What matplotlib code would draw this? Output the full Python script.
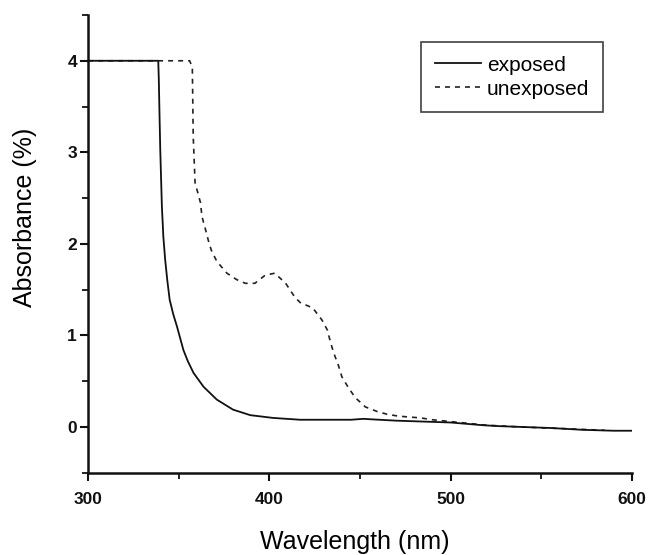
import matplotlib
matplotlib.use("Agg")
import matplotlib.pyplot as plt
from matplotlib.ticker import MultipleLocator

# values
wl_exposed = [300, 338.7, 339.0, 339.4, 339.8, 340.7, 341.5, 342.5, 343.7, 345,
              347, 349, 352.6, 355, 358.2, 363.7, 371, 380, 389.5, 402, 417,
              445, 452, 456, 470, 485, 500, 518, 527, 555, 573, 590, 600]
abs_exposed = [4.0, 4.0, 3.8, 3.4, 3.03, 2.41, 2.08, 1.83, 1.60, 1.39,
               1.23, 1.10, 0.84, 0.72, 0.59, 0.44, 0.30, 0.19, 0.13, 0.10, 0.08,
               0.08, 0.09, 0.085, 0.07, 0.06, 0.05, 0.02, 0.01, -0.01, -0.03,
               -0.04, -0.04]

wl_unexposed = [300, 356, 357.5, 358, 359, 362, 362.8, 364.6, 366.3, 368, 371,
                376.6, 382, 386.7, 392, 397.8, 403, 409, 414, 417, 424, 429,
                432, 433.7, 435.5, 438, 440, 443.6, 447.5, 453, 459.5, 465,
                471, 477, 483.5, 490, 500, 520, 540, 560, 585]
abs_unexposed = [4.0, 4.0, 3.93, 3.17, 2.67, 2.45, 2.3, 2.17, 2.04, 1.93, 1.81,
                 1.68, 1.61, 1.57, 1.57, 1.66, 1.68, 1.57, 1.42, 1.36, 1.30, 1.17,
                 1.06, 0.93, 0.81, 0.68, 0.55, 0.43, 0.32, 0.22, 0.17, 0.14,
                 0.12, 0.11, 0.10, 0.08, 0.06, 0.02, 0.0, -0.015, -0.035]

x_ticks = [300, 400, 500, 600]
y_ticks = [0, 1, 2, 3, 4]

fig = plt.figure(figsize=(6.48, 5.55), dpi=100)
ax = fig.add_axes([0.136, 0.148, 0.839, 0.825])

ax.plot(wl_unexposed, abs_unexposed, color="#222222", lw=1.2,
        linestyle=(0, (3, 3)), label="unexposed")
ax.plot(wl_exposed, abs_exposed, color="#111111", lw=1.3, label="exposed")

ax.set_xlim(300, 600)
ax.set_ylim(-0.5, 4.5)
ax.set_xticks(x_ticks)
ax.set_yticks(y_ticks)
ax.xaxis.set_minor_locator(MultipleLocator(50))
ax.yaxis.set_minor_locator(MultipleLocator(0.5))

for side in ["top", "right"]:
    ax.spines[side].set_visible(False)
for side in ["left", "bottom"]:
    ax.spines[side].set_linewidth(1.8)
    ax.spines[side].set_color("#111111")

ax.tick_params(which="major", direction="out", length=6, width=1.5,
               colors="#111111")
ax.tick_params(which="minor", direction="out", length=4, width=1.3,
               colors="#111111")
ax.tick_params(axis="x", which="major", pad=8)
ax.tick_params(axis="y", which="major", pad=2)
for lab in ax.get_xticklabels() + ax.get_yticklabels():
    lab.set_fontfamily("Liberation Sans")
    lab.set_fontweight("bold")
    lab.set_fontsize(12.5)

ax.set_xlabel("Wavelength (nm)", fontsize=18, family="Liberation Sans")
ax.set_ylabel("Absorbance (%)", fontsize=18, family="Liberation Sans")
ax.xaxis.set_label_coords(0.49, -0.124)
ax.yaxis.set_label_coords(-0.094, 0.557)

handles, labels = ax.get_legend_handles_labels()
leg = ax.legend(handles[::-1], labels[::-1], loc="upper right",
                bbox_to_anchor=(0.947, 0.941), borderaxespad=0,
                fancybox=False, frameon=True, edgecolor="#111111",
                prop={"family": "Liberation Sans", "size": 15},
                handlelength=2.2, handletextpad=0.3, borderpad=0.65,
                labelspacing=0.25)
leg.get_frame().set_linewidth(1.2)

fig.savefig("out.png", dpi=100)
